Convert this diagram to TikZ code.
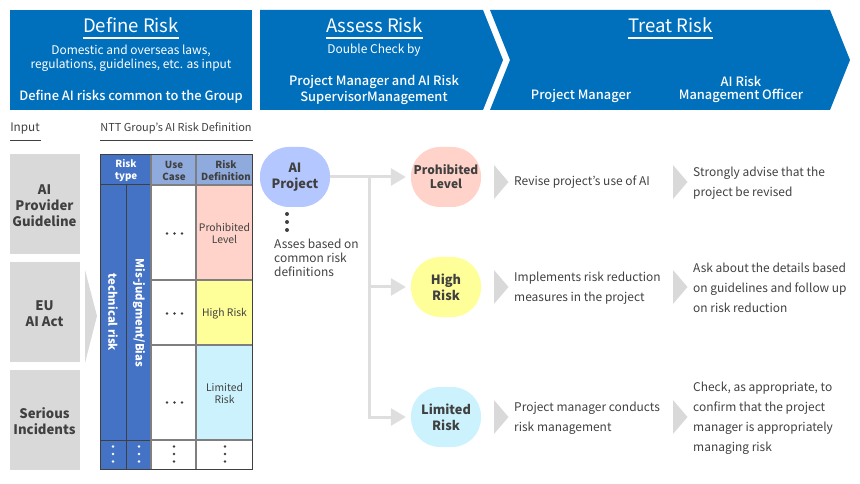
\documentclass[tikz,border=0pt]{standalone}
\usepackage{fontspec}
\setmainfont{Noto Sans CJK JP}
\newfontfamily\mediumfont{Noto Sans CJK JP Medium}
\usetikzlibrary{calc,arrows.meta,positioning}

\definecolor{cBanner}{HTML}{0070BC}
\definecolor{cGrey}{HTML}{D9D9D9}
\definecolor{cFlow}{HTML}{DEDEDE}
\definecolor{cInk}{HTML}{404040}
\definecolor{cType}{HTML}{4472C4}
\definecolor{cHead}{HTML}{8FAADC}
\definecolor{cRule}{HTML}{7F7F7F}
\definecolor{cProject}{HTML}{B4C7FF}
\definecolor{cProhibited}{HTML}{FFD3CA}
\definecolor{cHigh}{HTML}{FFFF99}
\definecolor{cLimited}{HTML}{CCF3FD}

\tikzset{
    bannerhead/.style={text=white,font=\fontsize{18.6}{22}\selectfont,inner sep=0pt},
    bannertext/.style={text=white,font=\fontsize{12}{14}\selectfont,align=center,inner sep=0pt},
    bannerbold/.style={text=white,font=\fontsize{12.9}{16}\selectfont\mediumfont,align=center,inner sep=0pt},
    titletext/.style={text=cInk,font=\fontsize{11.8}{14}\selectfont,inner sep=0pt},
    inputtext/.style={text=cInk,font=\fontsize{13.2}{16}\selectfont\bfseries,align=center,inner sep=0pt},
    riskcircle/.style={rectangle,rounded corners=29bp,minimum width=70bp,minimum height=60bp,text=cInk,
        font=\fontsize{12.8}{16}\selectfont\bfseries,align=center,inner sep=0pt},
    bodytext/.style={text=cInk,font=\fontsize{12}{20}\selectfont,align=left,anchor=west,inner sep=0pt},
    celltext/.style={text=cInk,font=\fontsize{10.4}{12}\selectfont,align=center,inner sep=0pt},
    headtext/.style={font=\fontsize{9.8}{12}\selectfont\bfseries,align=center,inner sep=0pt},
    sidetext/.style={text=white,font=\fontsize{11.4}{14}\selectfont\bfseries,rotate=-90,inner sep=0pt},
    flowline/.style={draw=cFlow,line width=3bp,-{Triangle[length=15bp,width=17bp]},shorten >=5bp}
}

\begin{document}
\begin{tikzpicture}[x=1bp,y=-1bp]
\useasboundingbox (0,0) rectangle (860,484);

% banners
\fill[cBanner] (10,10) rectangle (252,110);
\fill[cBanner] (260,10) -- (483,10) -- (503,60) -- (483,110) -- (260,110) -- cycle;
\fill[cBanner] (490,10) -- (830,10) -- (850,60) -- (830,110) -- (490,110) -- (510,60) -- cycle;

\node[bannerhead] (nDefine) at (131,25.5) {Define Risk};
\node[bannerhead] (nAssess) at (374.5,25.5) {Assess Risk};
\node[bannerhead] (nTreat) at (670.5,25.5) {Treat Risk};
\draw[white,line width=2bp] (83,38) -- (179,38);
\draw[white,line width=2bp] (326,38) -- (423,38);
\draw[white,line width=2bp] (628,38) -- (713,38);

\node[bannertext] (nLaws) at (131,58) {Domestic and overseas laws,\\regulations, guidelines, etc. as input};
\node[bannerbold] (nCommon) at (131,96.5) {Define AI risks common to the Group};
\node[bannertext] (nDouble) at (374,50) {Double Check by};
\node[bannerbold] (nManager) at (374,89.5) {Project Manager and AI Risk\\SupervisorManagement};
\node[bannerbold] (nProjMgr) at (581,96) {Project Manager};
\node[bannerbold,font=\fontsize{12.9}{13}\selectfont\mediumfont] (nOfficer) at (741,89) {AI Risk\\Management Officer};

% column titles
\node[titletext] (nInput) at (25,128.5) {Input};
\node[titletext,font=\fontsize{11}{14}\selectfont] (nDefn) at (176,128.5) {NTT Group's AI Risk Definition};
\draw[cInk,line width=0.8bp] (10,140.5) -- (41,140.5);
\draw[cInk,line width=0.8bp] (100,140.5) -- (253,140.5);

% inputs
\foreach \v/\u/\w/\t in
{nGuide/154/254/AI\\Provider\\Guideline,
    nAct/262/362/EU\\AI Act,
    nIncident/370/470/Serious\\Incidents
}
{
    \fill[cGrey] (10,\u) rectangle (80,\w);
    \node[inputtext] (\v) at (44.5,{(\u+\w)/2+1.5}) {\t};
};
\fill[cGrey] (85,270) -- (97,316) -- (85,363) -- cycle;

% table
\fill[cType] (100,154) rectangle (151,470);
\fill[cHead] (151,154) rectangle (253,185);
\fill[cProhibited] (196,185) rectangle (253,280);
\fill[cHigh] (196,280) rectangle (253,345);
\fill[cLimited] (196,345) rectangle (253,440);
\draw[cInk,line width=1bp] (126,185) -- (126,470);
\draw[cInk,line width=1bp] (100,185) -- (151,185);
\draw[cInk,line width=1bp] (100,440) -- (151,440);
\foreach \y in {185,280,345,440}
{
    \draw[cRule,line width=1.3bp] (151,\y) -- (253,\y);
};
\foreach \x in {151,196}
{
    \draw[cRule,line width=1.3bp] (\x,154) -- (\x,470);
};
\draw[cInk,line width=1bp] (100.5,154.5) rectangle (252.5,469.5);

\node[headtext,text=white] (nType) at (126,170.5) {Risk\\type};
\node[headtext,text=cInk] (nCase) at (174,170.5) {Use\\Case};
\node[headtext,text=cInk] (nRiskDef) at (226,170.5) {Risk\\Definition};
\node[sidetext] (nTech) at (113,312.5) {technical risk};
\node[sidetext] (nBias) at (139,313) {Mis-judgment/Bias};
\node[celltext] (nCellP) at (224.5,233.5) {Prohibited\\Level};
\node[celltext] (nCellH) at (224.5,314) {High Risk};
\node[celltext] (nCellL) at (224.5,393.5) {Limited\\Risk};

\foreach \y in {233.5,313.5,402.5}
{
    \foreach \x in {167,174.5,182}
    {
        \fill[cInk] (\x,\y) circle (1.4bp);
    };
};
\foreach \x/\c in {113/white,139/white,174/cInk,225/cInk}
{
    \foreach \y in {446.5,454,461.5}
    {
        \fill[\c] (\x,\y) circle (1.4bp);
    };
};

% flow
\node[riskcircle,fill=cProject] (nProject) at (295,177) {AI\\Project};
\node[riskcircle,fill=cProhibited,font=\fontsize{12}{14}\selectfont\bfseries] (nProhibited) at (446,177) {Prohibited\\Level};
\node[riskcircle,fill=cHigh] (nHigh) at (446,287) {High\\Risk};
\node[riskcircle,fill=cLimited] (nLimited) at (446,417) {Limited\\Risk};

\coordinate (cTrunk) at (369,177);
\draw[flowline] (nProject.east) -- (nProhibited.west);
\draw[flowline] (cTrunk) |- (nHigh.west);
\draw[flowline] (cTrunk) |- (nLimited.west);

\foreach \y in {214,222,230}
{
    \fill[cInk] (287,\y) circle (2bp);
};
\node[bodytext,font=\fontsize{12}{14}\selectfont] (nAsses) at (274,257.5) {Asses based on\\common risk\\definitions};

% outcomes
\foreach \y in {182,287,417}
{
    \fill[cGrey] (494,\y-17) -- (508.5,\y) -- (494,\y+17) -- cycle;
    \fill[cGrey] (673,\y-17) -- (687.5,\y) -- (673,\y+17) -- cycle;
};

\node[bodytext] (nRevise) at (514,182.5) {Revise project’s use of AI};
\node[bodytext] (nReduce) at (514,288) {Implements risk reduction\\measures in the project};
\node[bodytext] (nConduct) at (514,418) {Project manager conducts\\risk management};
\node[bodytext] (nAdvise) at (693,183.5) {Strongly advise that the\\project be revised};
\node[bodytext] (nAsk) at (693,288) {Ask about the details based\\on guidelines and follow up\\on risk reduction};
\node[bodytext] (nCheck) at (693,418.5) {Check, as appropriate, to\\confirm that the project\\manager is appropriately\\managing risk};
\end{tikzpicture}
\end{document}
